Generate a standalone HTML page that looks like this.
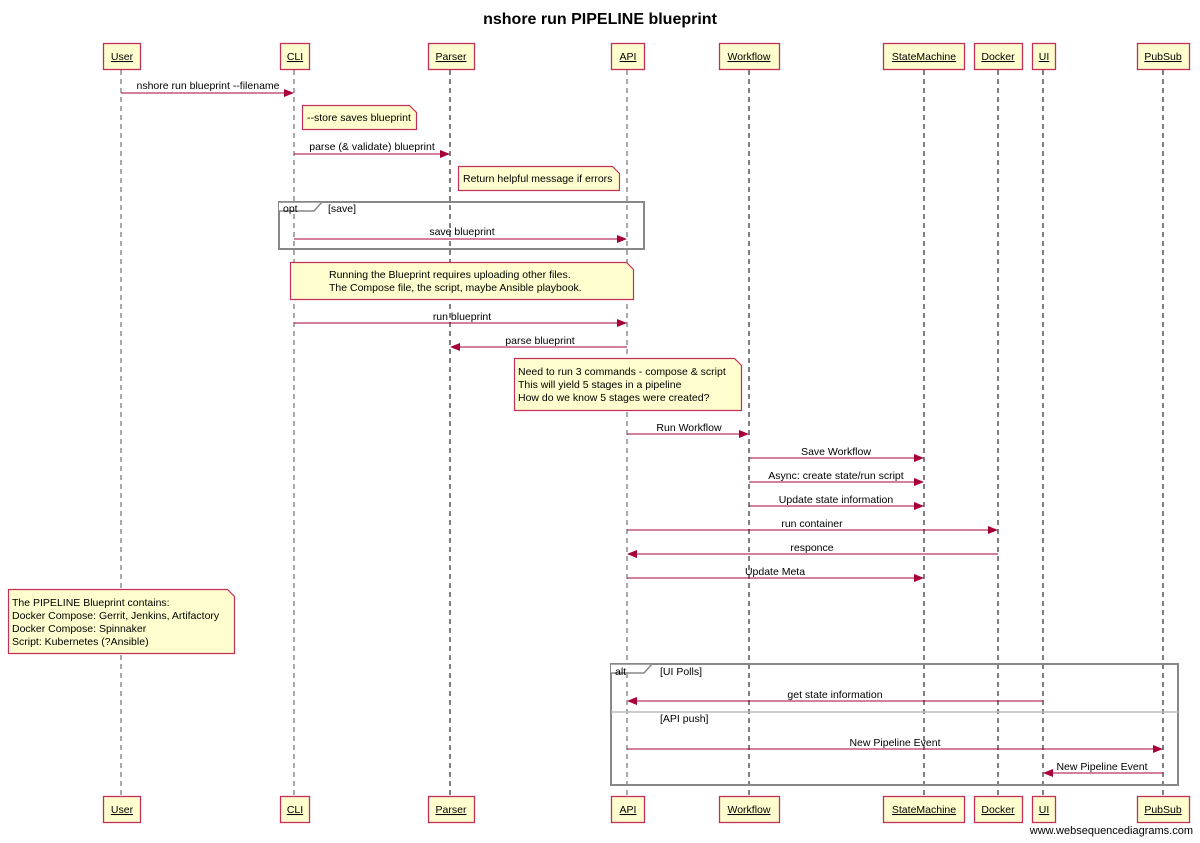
<!DOCTYPE html>
<html><head><meta charset="utf-8"><style>
html,body{margin:0;padding:0;background:#fff;}
svg{display:block;font-family:"Liberation Sans",Arial,sans-serif;}
</style></head><body>
<svg width="1200" height="843" viewBox="0 0 1200 843" xmlns="http://www.w3.org/2000/svg">
<defs>
<marker id="a" markerWidth="10" markerHeight="8" refX="9" refY="4" orient="auto" markerUnits="userSpaceOnUse"><path d="M0,0 L10,4 L0,8 Z" fill="#a80036"/></marker>
</defs>
<text x="600" y="24" font-size="16" font-weight="bold" text-anchor="middle">nshore run PIPELINE blueprint</text>
<g stroke-dasharray="5,4" stroke-width="1">
<line x1="121" y1="70" x2="121" y2="796" stroke="#555"/>
<line x1="294" y1="70" x2="294" y2="796" stroke="#555"/>
<line x1="450" y1="70" x2="450" y2="796" stroke="#000"/>
<line x1="627" y1="70" x2="627" y2="796" stroke="#555"/>
<line x1="749" y1="70" x2="749" y2="796" stroke="#000"/>
<line x1="924" y1="70" x2="924" y2="796" stroke="#000"/>
<line x1="998" y1="70" x2="998" y2="796" stroke="#000"/>
<line x1="1043" y1="70" x2="1043" y2="796" stroke="#000"/>
<line x1="1163" y1="70" x2="1163" y2="796" stroke="#000"/>
</g>
<g fill="#fefece" stroke="#c0305a" stroke-width="1.3">
<rect x="103.5" y="43.5" width="37" height="26"/><rect x="280.5" y="43.5" width="29" height="26"/>
<rect x="428.5" y="43.5" width="46" height="26"/><rect x="611.5" y="43.5" width="33" height="26"/>
<rect x="719.5" y="43.5" width="60" height="26"/><rect x="883.5" y="43.5" width="81" height="26"/>
<rect x="974.5" y="43.5" width="48" height="26"/><rect x="1032.5" y="43.5" width="23" height="26"/>
<rect x="1137.5" y="43.5" width="52" height="26"/>
<rect x="103.5" y="796.5" width="37" height="26"/><rect x="280.5" y="796.5" width="29" height="26"/>
<rect x="428.5" y="796.5" width="46" height="26"/><rect x="611.5" y="796.5" width="33" height="26"/>
<rect x="719.5" y="796.5" width="60" height="26"/><rect x="883.5" y="796.5" width="81" height="26"/>
<rect x="974.5" y="796.5" width="48" height="26"/><rect x="1032.5" y="796.5" width="23" height="26"/>
<rect x="1137.5" y="796.5" width="52" height="26"/>
</g>
<g font-size="10.5" text-anchor="middle" text-decoration="underline" fill="#000">
<text x="122" y="60">User</text><text x="295" y="60">CLI</text><text x="451" y="60">Parser</text><text x="628" y="60">API</text><text x="749" y="60">Workflow</text><text x="924" y="60">StateMachine</text><text x="998" y="60">Docker</text><text x="1044" y="60">UI</text><text x="1163" y="60">PubSub</text>
<text x="122" y="813">User</text><text x="295" y="813">CLI</text><text x="451" y="813">Parser</text><text x="628" y="813">API</text><text x="749" y="813">Workflow</text><text x="924" y="813">StateMachine</text><text x="998" y="813">Docker</text><text x="1044" y="813">UI</text><text x="1163" y="813">PubSub</text>
</g>
<g fill="none" stroke="#888" stroke-width="2">
<rect x="279" y="202" width="365" height="47"/>
<rect x="611" y="664" width="567" height="121"/>
</g>
<path d="M279,202 H322 L314,211 H279" fill="#fff" stroke="#888" stroke-width="1.5"/>
<path d="M611,664 H652 L644,673 H611" fill="#fff" stroke="#888" stroke-width="1.5"/>
<line x1="611" y1="712" x2="1178" y2="712" stroke="#bbb" stroke-width="1.5"/>
<g font-size="10.5" fill="#000">
<text x="283" y="212">opt</text><text x="328" y="212">[save]</text>
<text x="615" y="675">alt</text><text x="660" y="675">[UI Polls]</text>
<text x="660" y="722">[API push]</text>
</g>
<g fill="#fefece" stroke="#c0305a" stroke-width="1.2">
<path d="M302.5,105.5 H409.5 L416.5,112.5 V129.5 H302.5 Z"/>
<path d="M458.5,166.5 H612.5 L619.5,173.5 V190.5 H458.5 Z"/>
<path d="M290.5,262.5 H626.5 L633.5,269.5 V299.5 H290.5 Z"/>
<path d="M514.5,358.5 H734.5 L741.5,365.5 V410.5 H514.5 Z"/>
<path d="M8.5,589.5 H227.5 L234.5,596.5 V653.5 H8.5 Z"/>
</g>
<g font-size="10.5" fill="#000">
<text x="307" y="121">--store saves blueprint</text>
<text x="463" y="182">Return helpful message if errors</text>
<text x="329" y="278">Running the Blueprint requires uploading other files.</text>
<text x="329" y="291">The Compose file, the script, maybe Ansible playbook.</text>
<text x="518" y="375">Need to run 3 commands - compose &amp; script</text>
<text x="518" y="388">This will yield 5 stages in a pipeline</text>
<text x="518" y="401">How do we know 5 stages were created?</text>
<text x="12" y="606">The PIPELINE Blueprint contains:</text>
<text x="12" y="619">Docker Compose: Gerrit, Jenkins, Artifactory</text>
<text x="12" y="632">Docker Compose: Spinnaker</text>
<text x="12" y="645">Script: Kubernetes (?Ansible)</text>
</g>
<g stroke="#a80036" stroke-width="1" marker-end="url(#a)">
<line x1="121" y1="93" x2="293" y2="93"/>
<line x1="294" y1="154" x2="449" y2="154"/>
<line x1="294" y1="239" x2="626" y2="239"/>
<line x1="294" y1="323" x2="626" y2="323"/>
<line x1="627" y1="347" x2="451" y2="347"/>
<line x1="627" y1="434" x2="748" y2="434"/>
<line x1="749" y1="458" x2="923" y2="458"/>
<line x1="749" y1="482" x2="923" y2="482"/>
<line x1="749" y1="506" x2="923" y2="506"/>
<line x1="627" y1="530" x2="997" y2="530"/>
<line x1="998" y1="554" x2="628" y2="554"/>
<line x1="627" y1="578" x2="923" y2="578"/>
<line x1="1043" y1="701" x2="628" y2="701"/>
<line x1="627" y1="749" x2="1162" y2="749"/>
<line x1="1163" y1="773" x2="1044" y2="773"/>
</g>
<g font-size="10.5" fill="#000" text-anchor="middle">
<text x="208" y="89">nshore run blueprint --filename</text>
<text x="372" y="150">parse (&amp; validate) blueprint</text>
<text x="462" y="235">save blueprint</text>
<text x="462" y="320">run blueprint</text>
<text x="540" y="344">parse blueprint</text>
<text x="689" y="431">Run Workflow</text>
<text x="836" y="455">Save Workflow</text>
<text x="836" y="479">Async: create state/run script</text>
<text x="836" y="503">Update state information</text>
<text x="812" y="527">run container</text>
<text x="812" y="551">responce</text>
<text x="775" y="575">Update Meta</text>
<text x="835" y="698">get state information</text>
<text x="895" y="746">New Pipeline Event</text>
<text x="1102" y="770">New Pipeline Event</text>
</g>
<text x="1193" y="834" font-size="11" text-anchor="end" fill="#000">www.websequencediagrams.com</text>
</svg>
</body></html>
